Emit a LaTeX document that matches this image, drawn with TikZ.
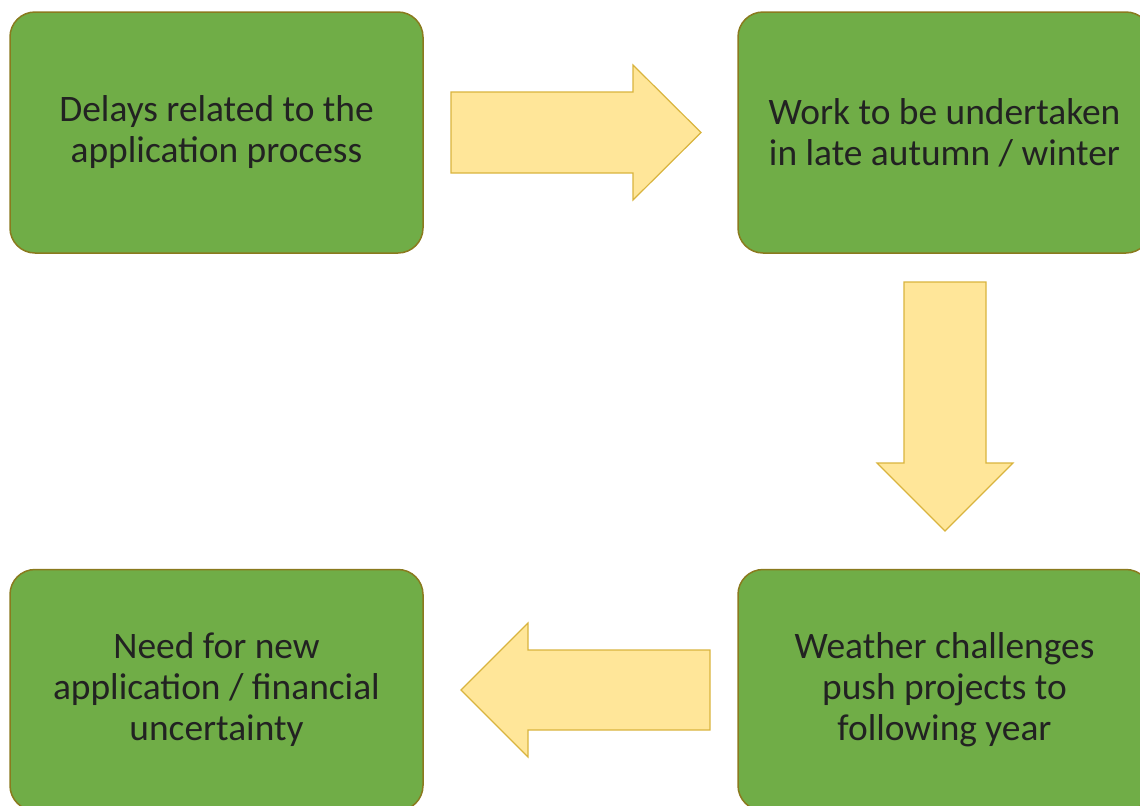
\documentclass[tikz,border=0pt]{standalone}
\usepackage{fontspec}
\setmainfont{Carlito}
\definecolor{boxgreen}{HTML}{70AD47}
\definecolor{boxedge}{HTML}{8A7A1E}
\definecolor{arrowfill}{HTML}{FFE699}
\definecolor{arrowedge}{HTML}{D9B43E}
\definecolor{textgrey}{HTML}{222222}
\tikzset{
  stagebox/.style={draw=boxedge, line width=0.75pt, fill=boxgreen, rounded corners=12.5pt,
    minimum width=206.5pt, minimum height=120.5pt, align=center, text=textgrey,
    font=\fontsize{18.7}{20.5}\selectfont},
  blockarrow/.style={draw=arrowedge, line width=0.6pt, fill=arrowfill, line join=miter}
}
\begin{document}
\begin{tikzpicture}[x=0.5pt,y=-0.5pt]

\clip (0,0) rectangle (1140,805);

\node[stagebox] (delays) at (216.5,132.5) {Delays related to the\\application process};
\node[stagebox] (work) at (944.5,132.5) {Work to be undertaken\\in late autumn / winter};
\node[stagebox] (weather) at (944.5,690) {Weather challenges\\push projects to\\following year};
\node[stagebox] (need) at (216.5,690) {Need for new\\application / financial\\uncertainty};

% right arrow
\draw[blockarrow] (451,92)--(633,92)--(633,65)--(701,132.5)--(633,200)--(633,173)--(451,173)--cycle;

% down arrow
\draw[blockarrow] (904,282)--(986,282)--(986,463)--(1013,463)--(945,531)--(877,463)--(904,463)--cycle;

% left arrow
\draw[blockarrow] (710,650)--(528,650)--(528,623)--(461,690)--(528,757)--(528,730)--(710,730)--cycle;

\end{tikzpicture}
\end{document}
